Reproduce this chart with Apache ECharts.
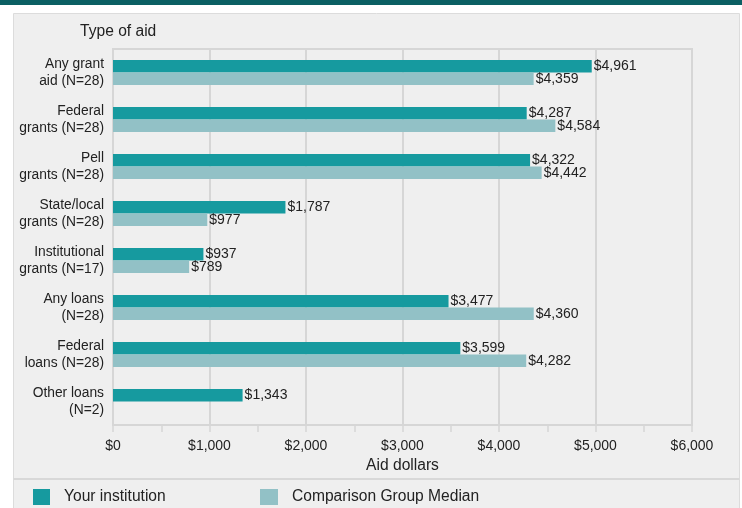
<!DOCTYPE html>
<html>
<head>
<meta charset="utf-8">
<script src="https://cdn.jsdelivr.net/npm/echarts@6/dist/echarts.min.js"></script>
<style>
html,body{margin:0;padding:0;background:#fff;}
#c{width:742px;height:508px;}
</style>
</head>
<body>
<div id="c"></div>
<script>
var categories = ["Any grant\naid (N=28)", "Federal\ngrants (N=28)", "Pell\ngrants (N=28)", "State/local\ngrants (N=28)", "Institutional\ngrants (N=17)", "Any loans\n(N=28)", "Federal\nloans (N=28)", "Other loans\n(N=2)"];
var yourInstitution = [4961, 4287, 4322, 1787, 937, 3477, 3599, 1343];
var comparisonMedian = [4359, 4584, 4442, 977, 789, 4360, 4282, null];
var xTicks = [0, 1000, 2000, 3000, 4000, 5000, 6000];

function money(v) {
  return '$' + String(Math.round(v)).replace(/\B(?=(\d{3})+(?!\d))/g, ',');
}

var font = 'Liberation Sans, Arial, sans-serif';
var chart = echarts.init(document.getElementById('c'), null, {renderer: 'canvas'});
chart.setOption({
  animation: false,
  backgroundColor: '#ffffff',
  graphic: [
    {type: 'rect', z: -10, shape: {x: 0, y: 0, width: 742, height: 5}, style: {fill: '#0b5f63'}},
    {type: 'rect', z: -10, shape: {x: 13.5, y: 13.5, width: 726, height: 520}, style: {fill: '#efefef', stroke: '#dcdcdc', lineWidth: 1}},
    {type: 'line', z: -9, shape: {x1: 13.5, y1: 479, x2: 739.5, y2: 479}, style: {stroke: '#d8d8d8', lineWidth: 2}},
    {type: 'text', z: 10, left: 80, top: 24, style: {text: 'Type of aid', font: '15.6px ' + font, fill: '#222'}}
  ],
  grid: {left: 113, right: 50, top: 49, bottom: 83, show: true, borderColor: '#d6d6d6', borderWidth: 2, backgroundColor: 'transparent', containLabel: false},
  legend: [
    {data: ['Your institution'], left: 28, top: 484, itemWidth: 17, itemHeight: 16, icon: 'rect', textStyle: {fontSize: 15.6, fontFamily: font, color: '#222', padding: [0, 0, 0, 9]}},
    {data: ['Comparison Group Median'], left: 255, top: 484, itemWidth: 18, itemHeight: 16, icon: 'rect', textStyle: {fontSize: 15.6, fontFamily: font, color: '#222', padding: [0, 0, 0, 9]}}
  ],
  xAxis: {
    type: 'value', min: xTicks[0], max: xTicks[xTicks.length - 1], interval: 1000,
    name: 'Aid dollars', nameLocation: 'middle', nameGap: 33,
    nameTextStyle: {fontSize: 15.6, fontFamily: font, color: '#222'},
    axisLine: {show: true, lineStyle: {color: '#d6d6d6', width: 2}},
    axisTick: {show: true, length: 7, lineStyle: {color: '#d6d6d6', width: 1.5}},
    minorTick: {show: true, splitNumber: 2, length: 7, lineStyle: {color: '#d6d6d6', width: 1.5}},
    splitLine: {show: true, lineStyle: {color: '#d6d6d6', width: 2}},
    axisLabel: {margin: 14, fontSize: 14, fontFamily: font, color: '#222', formatter: function (v) { return money(v); }}
  },
  yAxis: {
    type: 'category', data: categories, inverse: true,
    axisLine: {show: true, lineStyle: {color: '#d6d6d6', width: 2}},
    axisTick: {show: false},
    axisLabel: {margin: 9, fontSize: 13.8, fontFamily: font, color: '#222', lineHeight: 17, align: 'right'}
  },
  series: [
    {name: 'Your institution', type: 'bar', data: yourInstitution, barWidth: 12.5, barGap: '0%',
     itemStyle: {color: '#169a9f'},
     label: {show: true, position: 'right', distance: 2, fontSize: 14, fontFamily: font, color: '#222', formatter: function (p) { return money(p.value); }}},
    {name: 'Comparison Group Median', type: 'bar', data: comparisonMedian, barWidth: 12.5, barGap: '0%',
     itemStyle: {color: '#92c1c6'},
     label: {show: true, position: 'right', distance: 2, fontSize: 14, fontFamily: font, color: '#222', formatter: function (p) { return p.value == null ? '' : money(p.value); }}}
  ]
});
</script>
</body>
</html>
